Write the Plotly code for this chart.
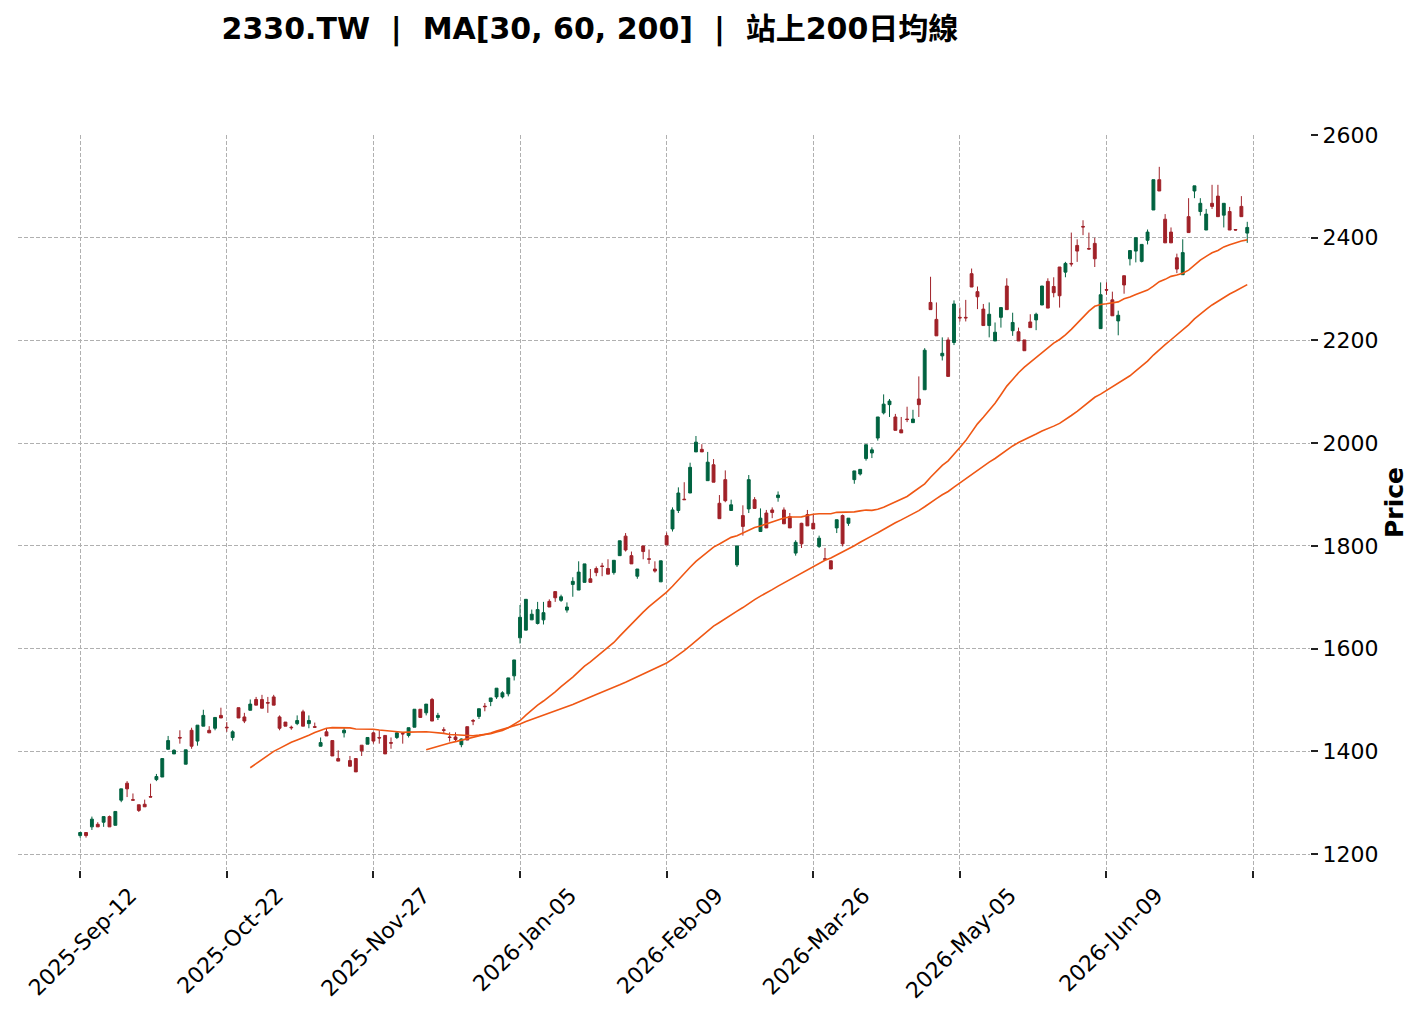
import numpy as np
import pandas as pd
import plotly.graph_objects as go

# 2330.TW daily candles, index 0..199
opens = [
    1236, 1242, 1253, 1258, 1262, 1273, 1256, 1305, 1338, 1306,
    1296, 1297, 1312, 1345, 1350, 1404, 1395, 1427, 1375, 1441,
    1420, 1449, 1441, 1445, 1470, 1447, 1427, 1485, 1467, 1480,
    1501, 1501, 1495, 1506, 1467, 1457, 1447, 1454, 1477, 1454,
    1448, 1410, 1438, 1421, 1386, 1436, 1382, 1386, 1412, 1414,
    1436, 1427, 1431, 1417, 1427, 1435, 1431, 1447, 1482, 1475,
    1501, 1466, 1442, 1428, 1428, 1413, 1448, 1460, 1468, 1488,
    1497, 1506, 1506, 1512, 1547, 1621, 1636, 1656, 1649, 1656,
    1692, 1711, 1694, 1675, 1725, 1714, 1729, 1736, 1756, 1761,
    1756, 1748, 1781, 1819, 1781, 1741, 1800, 1775, 1755, 1730,
    1820, 1833, 1869, 1891, 1903, 1983, 1988, 1927, 1958, 1883,
    1929, 1869, 1763, 1859, 1872, 1890, 1828, 1864, 1870, 1894,
    1870, 1857, 1786, 1844, 1861, 1844, 1799, 1775, 1771, 1835,
    1859, 1844, 1929, 1940, 1970, 1981, 2010, 2059, 2075, 2051,
    2026, 2047, 2040, 2086, 2104, 2274, 2241, 2170, 2201, 2196,
    2245, 2245, 2330, 2295, 2261, 2229, 2199, 2245, 2306, 2219,
    2217, 2201, 2236, 2240, 2269, 2315, 2305, 2343, 2333, 2350,
    2385, 2422, 2379, 2389, 2223, 2299, 2279, 2238, 2326, 2359,
    2374, 2354, 2395, 2454, 2513, 2436, 2411, 2361, 2328, 2441,
    2491, 2451, 2415, 2467, 2481, 2444, 2451, 2416, 2461, 2409,
]
highs = [
    1243, 1242, 1273, 1262, 1273, 1275, 1283, 1327, 1342, 1318,
    1296, 1306, 1337, 1356, 1386, 1430, 1404, 1441, 1403, 1446,
    1451, 1481, 1449, 1466, 1485, 1457, 1441, 1485, 1475, 1501,
    1506, 1510, 1506, 1510, 1470, 1457, 1450, 1470, 1481, 1470,
    1456, 1427, 1445, 1421, 1402, 1446, 1391, 1386, 1412, 1427,
    1438, 1441, 1431, 1427, 1437, 1436, 1446, 1482, 1482, 1492,
    1504, 1475, 1447, 1437, 1437, 1425, 1448, 1463, 1483, 1494,
    1504, 1523, 1517, 1543, 1578, 1685, 1696, 1676, 1691, 1691,
    1696, 1711, 1705, 1690, 1739, 1770, 1765, 1755, 1760, 1767,
    1774, 1772, 1810, 1825, 1789, 1755, 1800, 1793, 1770, 1771,
    1826, 1875, 1914, 1924, 1962, 2014, 1998, 1983, 1969, 1899,
    1947, 1890, 1800, 1879, 1938, 1895, 1873, 1870, 1875, 1906,
    1875, 1864, 1811, 1845, 1870, 1861, 1820, 1796, 1771, 1851,
    1861, 1854, 1946, 1949, 1997, 1992, 2051, 2095, 2086, 2057,
    2051, 2071, 2065, 2130, 2185, 2324, 2274, 2206, 2206, 2278,
    2264, 2279, 2340, 2305, 2271, 2274, 2235, 2264, 2321, 2254,
    2225, 2201, 2251, 2254, 2306, 2321, 2323, 2343, 2353, 2410,
    2397, 2434, 2410, 2400, 2313, 2313, 2295, 2258, 2326, 2375,
    2400, 2387, 2416, 2513, 2538, 2446, 2420, 2369, 2397, 2477,
    2501, 2477, 2456, 2503, 2503, 2467, 2460, 2416, 2481, 2431,
]
lows = [
    1232, 1232, 1247, 1253, 1253, 1253, 1256, 1301, 1311, 1305,
    1282, 1292, 1311, 1342, 1350, 1404, 1395, 1415, 1375, 1405,
    1411, 1449, 1436, 1441, 1465, 1438, 1421, 1465, 1455, 1480,
    1490, 1484, 1475, 1490, 1441, 1449, 1442, 1451, 1449, 1445,
    1446, 1410, 1430, 1391, 1381, 1427, 1371, 1360, 1391, 1414,
    1415, 1415, 1395, 1405, 1424, 1415, 1427, 1447, 1466, 1470,
    1459, 1461, 1436, 1419, 1419, 1408, 1422, 1451, 1463, 1478,
    1488, 1502, 1503, 1507, 1538, 1610, 1636, 1656, 1647, 1647,
    1681, 1691, 1691, 1670, 1701, 1714, 1729, 1729, 1741, 1741,
    1745, 1744, 1781, 1789, 1765, 1736, 1774, 1765, 1748, 1730,
    1802, 1828, 1864, 1890, 1903, 1983, 1983, 1927, 1924, 1853,
    1885, 1869, 1759, 1820, 1864, 1873, 1828, 1835, 1854, 1886,
    1843, 1835, 1781, 1796, 1839, 1833, 1796, 1774, 1755, 1825,
    1799, 1839, 1921, 1937, 1966, 1971, 2005, 2056, 2051, 2025,
    2020, 2041, 2040, 2051, 2104, 2260, 2209, 2161, 2130, 2191,
    2237, 2237, 2304, 2261, 2229, 2206, 2199, 2225, 2260, 2209,
    2199, 2180, 2225, 2220, 2269, 2263, 2284, 2264, 2323, 2344,
    2353, 2405, 2377, 2343, 2223, 2289, 2248, 2210, 2291, 2346,
    2352, 2352, 2387, 2454, 2491, 2390, 2390, 2331, 2328, 2410,
    2477, 2443, 2415, 2456, 2441, 2420, 2415, 2414, 2441, 2390,
]
closes = [
    1242, 1236, 1268, 1253, 1273, 1253, 1283, 1327, 1327, 1305,
    1285, 1292, 1311, 1351, 1386, 1421, 1402, 1426, 1403, 1410,
    1451, 1470, 1436, 1466, 1465, 1446, 1438, 1465, 1459, 1492,
    1490, 1484, 1494, 1490, 1445, 1449, 1446, 1460, 1449, 1460,
    1447, 1417, 1430, 1391, 1381, 1441, 1371, 1360, 1401, 1427,
    1420, 1426, 1395, 1416, 1436, 1434, 1446, 1482, 1466, 1492,
    1459, 1470, 1441, 1427, 1423, 1424, 1422, 1459, 1483, 1487,
    1504, 1523, 1514, 1543, 1578, 1661, 1696, 1667, 1676, 1670,
    1681, 1699, 1701, 1681, 1731, 1749, 1765, 1729, 1748, 1760,
    1745, 1772, 1810, 1792, 1765, 1755, 1789, 1774, 1751, 1771,
    1802, 1870, 1903, 1890, 1953, 2002, 1983, 1963, 1924, 1853,
    1888, 1880, 1800, 1838, 1929, 1873, 1854, 1835, 1865, 1899,
    1843, 1835, 1807, 1804, 1839, 1833, 1815, 1774, 1755, 1851,
    1804, 1854, 1946, 1949, 1997, 1987, 2051, 2076, 2082, 2025,
    2020, 2046, 2047, 2075, 2181, 2260, 2209, 2175, 2130, 2271,
    2244, 2244, 2304, 2285, 2229, 2251, 2216, 2264, 2260, 2235,
    2199, 2180, 2225, 2251, 2306, 2263, 2293, 2287, 2350, 2349,
    2374, 2421, 2378, 2359, 2289, 2298, 2248, 2249, 2308, 2375,
    2400, 2387, 2411, 2513, 2491, 2390, 2390, 2339, 2371, 2410,
    2501, 2467, 2446, 2461, 2441, 2467, 2415, 2415, 2441, 2420,
]

ma_windows = [30, 60, 200]
tick_pos = [0, 25, 50, 75, 100, 125, 150, 175, 200]
tick_text = ["2025-Sep-12", "2025-Oct-22", "2025-Nov-27", "2026-Jan-05",
             "2026-Feb-09", "2026-Mar-26", "2026-May-05", "2026-Jun-09", ""]
price_ticks = [1200, 1400, 1600, 1800, 2000, 2200, 2400, 2600]

UP = "#006340"
DOWN = "#a02128"
MA_COLOR = "#ef5714"
GRID = "#b0b0b0"

idx = np.arange(len(closes))
close_s = pd.Series(closes, dtype=float)

fig = go.Figure()

fig.add_trace(go.Candlestick(
    x=idx, open=opens, high=highs, low=lows, close=closes,
    increasing=dict(line=dict(color=UP, width=1), fillcolor=UP),
    decreasing=dict(line=dict(color=DOWN, width=1), fillcolor=DOWN),
    whiskerwidth=0, showlegend=False, name="2330.TW",
))

for w in ma_windows:
    ma = close_s.rolling(w).mean()
    fig.add_trace(go.Scatter(
        x=idx, y=ma, mode="lines",
        line=dict(color=MA_COLOR, width=1.6),
        showlegend=False, name=f"MA{w}", hoverinfo="skip",
    ))

title_font = "DejaVu Sans, Noto Sans CJK TC, sans-serif"

# page is drawn 8px in from the top-left, margins compensate for that
fig.update_layout(
    width=1425, height=1011,
    paper_bgcolor="white", plot_bgcolor="white",
    margin=dict(l=10, r=123, t=127, b=149),
    font=dict(family="DejaVu Sans, sans-serif", size=22, color="black"),
    title=dict(
        text="<b>2330.TW  |  MA[30, 60, 200]  |  站上200日均線</b>",
        font=dict(family=title_font, size=30, color="black"),
        x=0.4427, xref="paper", xanchor="center",
        y=0.980, yref="container", yanchor="middle",
    ),
    showlegend=False,
)

fig.update_xaxes(
    range=[-10.6, 209.7],
    tickmode="array", tickvals=tick_pos, ticktext=tick_text,
    tickangle=-45, ticks="outside", ticklen=7, tickwidth=1.5, tickcolor="#222222",
    tickfont=dict(size=22),
    ticklabelshift=50, ticklabelstandoff=-4,
    showgrid=True, gridcolor=GRID, griddash="4px,2px", gridwidth=1,
    showline=False, zeroline=False,
    rangeslider=dict(visible=False),
)

fig.update_yaxes(
    range=[1169, 2600], side="right",
    tickmode="array", tickvals=price_ticks,
    ticks="outside", ticklen=7, tickwidth=1.5, tickcolor="#222222",
    tickfont=dict(size=22),
    showgrid=True, gridcolor=GRID, griddash="4px,2px", gridwidth=1,
    showline=False, zeroline=False,
    title=dict(text="<b>Price</b>", font=dict(size=25), standoff=8),
)

fig.write_html("out.html")
